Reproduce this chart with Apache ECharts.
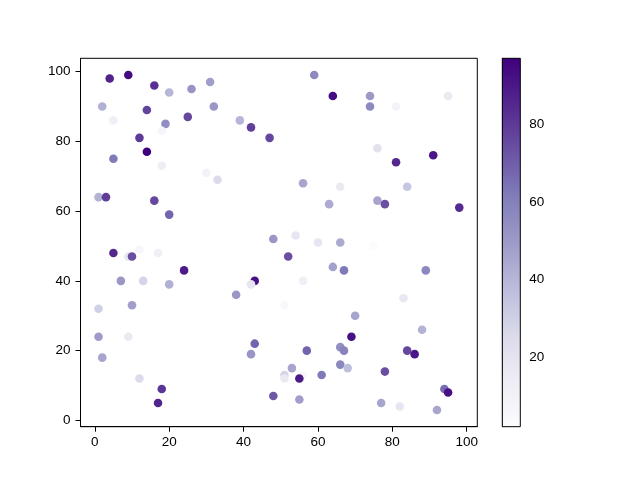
<!DOCTYPE html>
<html>
<head>
<meta charset="utf-8">
<script src="https://cdn.jsdelivr.net/npm/echarts@6/dist/echarts.min.js"></script>
<style>html,body{margin:0;padding:0;background:#fff}#c{width:640px;height:480px}</style>
</head>
<body>
<div id="c"></div>
<script>
const xValues = [4,9,16,20,26,31,2,5,14,19,25,32,18,39,42,47,12,14,5,18,30,33,1,3,16,20,48,59,64,74,74,81,95,76,81,91,56,66,84,63,76,78,98,54,60,66,75,9,10,5,12,17,24,7,13,20,10,1,1,9,2,12,18,17,38,43,42,43,42,48,52,64,67,89,56,83,51,70,88,69,57,66,67,84,86,53,51,51,56,55,61,66,68,78,55,77,82,92,94,95];
const yValues = [98,99,96,94,95,97,90,86,89,85,87,90,83,86,84,81,81,77,75,73,71,69,64,64,63,59,52,99,93,93,90,90,93,78,74,76,68,67,67,62,63,62,61,53,51,51,50,47,47,48,49,48,43,40,40,39,33,32,24,24,18,12,9,5,36,40,39,22,19,7,47,44,43,43,40,35,33,30,26,24,20,21,20,20,19,15,13,12,13,12,13,16,15,14,6,5,4,3,9,8];
const cValues = [87,94,83,40,52,48,42,13,77,55,76,51,7,40,78,76,80,97,62,14,10,25,41,79,76,68,51,56,93,50,56,9,16,21,85,90,46,16,34,44,46,74,84,18,19,44,2,19,74,85,6,13,89,51,28,42,48,30,49,16,46,25,81,86,51,92,19,68,51,71,74,47,62,57,13,17,5,46,41,92,68,54,59,76,90,46,28,16,5,89,62,57,37,74,48,46,19,46,66,92];
const xTicks = [0,20,40,60,80,100];
const yTicks = [0,20,40,60,80,100];
const cTicks = [20,40,60,80];
const cMin = 2, cMax = 97;
const purples = ['#fcfbfd','#efedf5','#dadaeb','#bcbddc','#9e9ac8','#807dba','#6a51a3','#54278f','#3f007d'];

const chart = echarts.init(document.getElementById('c'));
const points = xValues.map((x, i) => [x, yValues[i], cValues[i]]);
const font = 'Liberation Sans';
const gradStops = purples.slice().reverse().map((c, i) => ({offset: i / (purples.length - 1), color: c}));

chart.setOption({
  animation: false,
  backgroundColor: '#fff',
  grid: [
    {left: 80.5, right: 162.7, top: 58.3, bottom: 53.3, show: true, borderColor: '#000', borderWidth: 1, backgroundColor: 'transparent'},
    {left: 502.3, width: 18, top: 58.3, bottom: 53.3}
  ],
  xAxis: [
    {type: 'value', gridIndex: 0, min: -3.85, max: 102.85,
     axisLine: {show: true, onZero: false, lineStyle: {color: '#000', width: 1}},
     axisTick: {show: true, length: 5, inside: false, customValues: xTicks, lineStyle: {color: '#000'}},
     axisLabel: {customValues: xTicks, color: '#000', fontSize: 13.5, fontFamily: font, margin: 9},
     splitLine: {show: false}},
    {type: 'value', gridIndex: 1, min: 0, max: 1, show: false}
  ],
  yAxis: [
    {type: 'value', gridIndex: 0, min: -1.8, max: 103.8,
     axisLine: {show: true, onZero: false, lineStyle: {color: '#000', width: 1}},
     axisTick: {show: true, length: 5, inside: false, customValues: yTicks, lineStyle: {color: '#000'}},
     axisLabel: {customValues: yTicks, color: '#000', fontSize: 13.5, fontFamily: font, margin: 10},
     splitLine: {show: false}},
    {type: 'value', gridIndex: 1, min: cMin, max: cMax, position: 'right',
     axisLine: {show: true, lineStyle: {color: '#000', width: 1}},
     axisTick: {show: true, length: 5, inside: false, customValues: cTicks, lineStyle: {color: '#000'}},
     axisLabel: {customValues: cTicks, color: '#000', fontSize: 13.5, fontFamily: font, margin: 9},
     splitLine: {show: false}}
  ],
  visualMap: {
    show: false, type: 'continuous', dimension: 2, seriesIndex: 0,
    min: cMin, max: cMax, inRange: {color: purples}
  },
  series: [
    {type: 'scatter', xAxisIndex: 0, yAxisIndex: 0, data: points, symbolSize: 8.6,
     itemStyle: {opacity: 1}},
    {type: 'custom', xAxisIndex: 1, yAxisIndex: 1, data: [[0, cMin, cMax]], silent: true,
     renderItem: function (params, api) {
       const p0 = api.coord([0, api.value(2)]);
       const p1 = api.coord([1, api.value(1)]);
       return {
         type: 'rect',
         shape: {x: p0[0], y: p0[1], width: p1[0] - p0[0], height: p1[1] - p0[1]},
         style: {fill: new echarts.graphic.LinearGradient(0, 0, 0, 1, gradStops), stroke: '#000', lineWidth: 1}
       };
     }}
  ]
});
</script>
</body>
</html>
